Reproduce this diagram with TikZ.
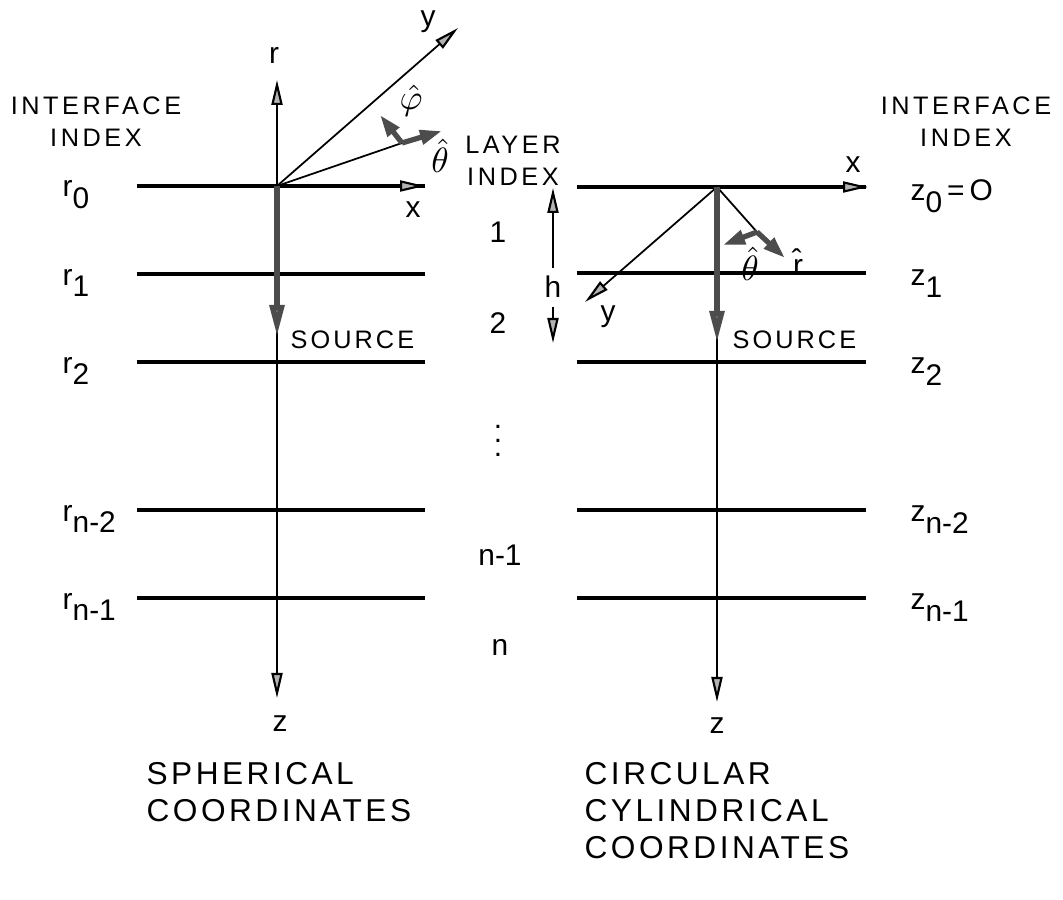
\documentclass[tikz,border=0pt]{standalone}
\usepackage{amsmath}
\usepackage{fontspec}
\setmainfont{Liberation Sans}
\usepackage{tikz}
\usetikzlibrary{arrows.meta}
\newcommand{\lsub}[1]{\raisebox{-0.75ex}{#1}}

\begin{document}
\begin{tikzpicture}[
    x=0.1mm, y=-0.1mm,
    >={Triangle[length=2.5mm, width=1.1mm, fill=gray!60, line width=0.6pt]},
    every node/.style={font=\fontsize{8.5}{9}\selectfont, inner sep=0pt},
    capstext/.style={font=\fontsize{7.2}{9.1}\selectfont\addfontfeatures{LetterSpace=14}, align=center},
    titletext/.style={font=\fontsize{9}{10.5}\selectfont\addfontfeatures{LetterSpace=11}, align=left, anchor=north west},
    hattext/.style={font=\fontsize{10}{10}\selectfont},
    layer/.style={line width=1pt},
    axis/.style={->, line width=0.5pt},
    source/.style={-{Triangle[length=3.2mm, width=1.4mm, fill=gray!50]}, line width=1.6pt, gray!60!black},
    unitvec/.style={-{Triangle[length=2.2mm, width=1.4mm, fill=gray!50]}, line width=1.5pt, gray!60!black},
]
    \useasboundingbox (0,0) rectangle (1063,900);

    % Spherical coordinates (left)
    \coordinate (sorig) at (277,186);
    \foreach \name/\y in {r0/186, r1/274, r2/362, rn2/510, rn1/598}
        \draw[layer] (137,\y) coordinate (\name west) -- (425,\y);
    \coordinate (rtip) at (277,80);
    \coordinate (sztip) at (277,698);
    \coordinate (sxtip) at (425,186);
    \coordinate (sytip) at (458,28);
    \coordinate (sthend) at (402,143);
    \draw[axis] (sorig) -- (rtip);
    \draw[axis] (sorig) -- (sztip);
    \draw[axis] (sorig) -- (sxtip);
    \draw[axis] (sorig) -- (sytip);
    \draw[line width=0.5pt] (sorig) -- (sthend);
    \draw[source] (sorig) -- (277,337);
    \draw[unitvec] (sthend) -- (442,131);
    \draw[unitvec] (sthend) -- (380,115);

    \node (rlab) at (274,55) {r};
    \node (sylab) at (428,22) {y};
    \node (sxlab) at (413,210) {x};
    \node (szlab) at (280,724) {z};
    \node[hattext] (phihat) at (411,101) {$\hat{\varphi}$};
    \node[hattext] (sthhat) at (440,156) {$\hat{\theta}$};
    \node[font=\fontsize{7.2}{9}\selectfont\addfontfeatures{LetterSpace=12}, anchor=west] (ssource) at (290,340) {SOURCE};

    \node[capstext] (lindex) at (96,122) {INTERFACE\\INDEX};
    \node[anchor=west] (lr0) at (62,195) {r\lsub{0}};
    \node[anchor=west] (lr1) at (62,283) {r\lsub{1}};
    \node[anchor=west] (lr2) at (62,371) {r\lsub{2}};
    \node[anchor=west] (lrn2) at (62,519) {r\lsub{n-2}};
    \node[anchor=west] (lrn1) at (62,607) {r\lsub{n-1}};

    % Layer index (middle)
    \node[capstext] (layidx) at (513,161) {LAYER\\INDEX};
    \node (lay1) at (498,232) {1};
    \node (lay2) at (498,323) {2};
    \node (laydots) at (498,430) {$\vdots$};
    \node (layn1) at (500,555) {n-1};
    \node (layn) at (500,647) {n};
    \node (hlab) at (553,287) {h};
    \draw[axis] (553,268) -- (553,188);
    \draw[axis] (553,307) -- (553,343);

    % Circular cylindrical coordinates (right)
    \coordinate (corig) at (717,187);
    \foreach \name/\y in {z0/187, z1/273, z2/362, zn2/510, zn1/598}
        \draw[layer] (577,\y) -- (866,\y);
    \coordinate (cxtip) at (868,187);
    \coordinate (cytip) at (585,302);
    \coordinate (cztip) at (717,702);
    \coordinate (crend) at (757,232);
    \draw[axis] (corig) -- (cxtip);
    \draw[axis] (corig) -- (cytip);
    \draw[axis] (corig) -- (cztip);
    \draw[line width=0.5pt] (corig) -- (crend);
    \draw[source] (corig) -- (717,343);
    \draw[unitvec] (crend) -- (785,258);
    \draw[unitvec] (crend) -- (723,245);

    \node (cxlab) at (853,165) {x};
    \node (cylab) at (608,317) {y};
    \node (czlab) at (717,726) {z};
    \node[hattext] (cthhat) at (750,264) {$\hat{\theta}$};
    \node (crhat) at (798,262) {\^{r}};
    \node[font=\fontsize{7.2}{9}\selectfont\addfontfeatures{LetterSpace=12}, anchor=west] (csource) at (732,340) {SOURCE};

    \node[capstext] (rindex) at (966,122) {INTERFACE\\INDEX};
    \node[anchor=west] (lz0) at (910,196) {z\lsub{0}\,=\,O};
    \node[anchor=west] (lz1) at (910,284) {z\lsub{1}};
    \node[anchor=west] (lz2) at (910,372) {z\lsub{2}};
    \node[anchor=west] (lzn2) at (910,520) {z\lsub{n-2}};
    \node[anchor=west] (lzn1) at (910,608) {z\lsub{n-1}};

    % Titles
    \node[titletext] (sphtitle) at (146,762) {SPHERICAL\\COORDINATES};
    \node[titletext] (cyltitle) at (584,762) {CIRCULAR\\CYLINDRICAL\\COORDINATES};
\end{tikzpicture}
\end{document}
